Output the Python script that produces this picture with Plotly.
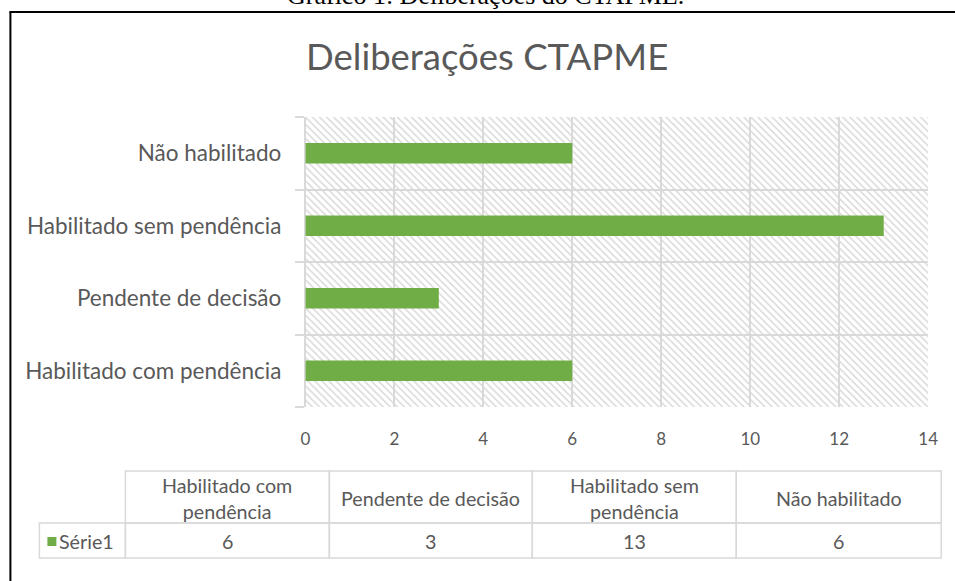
import plotly.graph_objects as go

# ---- data ----
categories = ["Habilitado com pendência", "Pendente de decisão", "Habilitado sem pendência", "Não habilitado"]
header_labels = ["Habilitado com<br>pendência", "Pendente de decisão", "Habilitado sem<br>pendência", "Não habilitado"]
values = [6, 3, 13, 6]
series_name = "Série1"
x_ticks = [0, 2, 4, 6, 8, 10, 12, 14]
x_max = 14
title_text = "Deliberações CTAPME"
caption_text = "Gráfico 1: Deliberações do CTAPME."

# ---- layout helpers (pixel -> paper) ----
W, H = 955, 581
SX, OX = 0.9845, 4.6   # compensation for the horizontal squeeze seen in the rendered page
def fx(px):
    return ((px - OX) / SX) / W
def fy(py):
    return 1 - py / H

GREEN = "#70AD47"
GRID = "#D9D9D9"
TXT = "#595959"
FONT = "Lato"

fig = go.Figure()

# hatched plot background
fig.add_trace(go.Bar(
    y=categories, x=[x_max] * len(categories), orientation="h", width=1,
    marker=dict(color="rgba(0,0,0,0)", line=dict(width=0),
                pattern=dict(shape="\\", fgcolor="#D9D9D9", bgcolor="rgba(0,0,0,0)",
                             size=5, solidity=0.3, fillmode="replace")),
    hoverinfo="skip", showlegend=False,
))

fig.add_trace(go.Bar(
    y=categories, x=values, orientation="h", width=0.284, name=series_name,
    marker=dict(color=GREEN, line=dict(width=0)), showlegend=False,
))

# ---- data table (drawn with shapes + annotations) ----
col_edges = [39, 125, 329, 532, 736, 941]
tbl_top, tbl_mid, tbl_bot = 471, 523, 558
shapes = []
annotations = []
line_style = dict(color=GRID, width=1.5)
for i in range(len(col_edges) - 1):
    x0, x1 = col_edges[i], col_edges[i + 1]
    shapes.append(dict(type="rect", xref="paper", yref="paper",
                       x0=fx(x0), x1=fx(x1), y0=fy(tbl_bot), y1=fy(tbl_mid),
                       line=line_style, fillcolor="rgba(0,0,0,0)", layer="below"))
    if i > 0:
        shapes.append(dict(type="rect", xref="paper", yref="paper",
                           x0=fx(x0), x1=fx(x1), y0=fy(tbl_mid), y1=fy(tbl_top),
                           line=line_style, fillcolor="rgba(0,0,0,0)", layer="below"))
        annotations.append(dict(text=header_labels[i - 1], xref="paper", yref="paper",
                                x=fx((x0 + x1) / 2), y=fy((tbl_top + tbl_mid) / 2 + 1),
                                xanchor="center", yanchor="middle", showarrow=False,
                                font=dict(family=FONT, size=19.7, color=TXT)))
        annotations.append(dict(text=str(values[i - 1]), xref="paper", yref="paper",
                                x=fx((x0 + x1) / 2), y=fy((tbl_mid + tbl_bot) / 2 + 1),
                                xanchor="center", yanchor="middle", showarrow=False,
                                font=dict(family=FONT, size=19.7, color=TXT)))

# legend key in the table
shapes.append(dict(type="rect", xref="paper", yref="paper",
                   x0=fx(47), x1=fx(56), y0=fy(546), y1=fy(537),
                   line=dict(width=0), fillcolor=GREEN))
annotations.append(dict(text=series_name, xref="paper", yref="paper",
                        x=fx(57), y=fy((tbl_mid + tbl_bot) / 2 + 1),
                        xanchor="left", yanchor="middle", showarrow=False,
                        font=dict(family=FONT, size=19.7, color=TXT)))

# frame lines (top-left corner of the surrounding box)
shapes.append(dict(type="line", xref="paper", yref="paper", x0=fx(9), x1=fx(958), y0=fy(12), y1=fy(12),
                   line=dict(color="black", width=2)))
shapes.append(dict(type="line", xref="paper", yref="paper", x0=fx(10), x1=fx(10), y0=fy(12), y1=0,
                   line=dict(color="black", width=2)))

annotations.append(dict(text=title_text, xref="paper", yref="paper", x=fx(487), y=fy(56),
                        xanchor="center", yanchor="middle", showarrow=False,
                        font=dict(family=FONT, size=36.5, color=TXT)))
annotations.append(dict(text=caption_text, xref="paper", yref="paper", x=fx(485), y=fy(12.5),
                        xanchor="center", yanchor="bottom", showarrow=False,
                        font=dict(family="Liberation Serif", size=26, color="black")))

fig.update_layout(
    width=W, height=H, autosize=False,
    margin=dict(l=0, r=0, t=0, b=0),
    paper_bgcolor="white", plot_bgcolor="white",
    barmode="overlay",
    font=dict(family=FONT, color=TXT),
    xaxis=dict(
        domain=[fx(305), fx(928)], range=[0, x_max], tickvals=x_ticks,
        showgrid=True, gridcolor=GRID, gridwidth=1.5,
        zeroline=True, zerolinecolor=GRID, zerolinewidth=1.5,
        showline=False, ticks="", ticklabelstandoff=20,
        tickfont=dict(family=FONT, size=17, color=TXT), fixedrange=True,
    ),
    yaxis=dict(
        domain=[fy(407), fy(117)], type="category",
        categoryorder="array", categoryarray=categories, range=[-0.5, 3.5],
        tickson="boundaries", ticks="outside", ticklen=9, tickcolor=GRID, tickwidth=1.5,
        showgrid=True, gridcolor=GRID, gridwidth=1.5, showline=False, zeroline=False,
        ticklabelstandoff=23,
        tickfont=dict(family=FONT, size=22.5, color=TXT), fixedrange=True,
    ),
    shapes=shapes,
    annotations=annotations,
)

fig.write_html(
    "out.html",
    config={"responsive": False, "displayModeBar": False},
    post_script="document.body.style.margin='0';document.body.style.overflow='hidden';",
)
